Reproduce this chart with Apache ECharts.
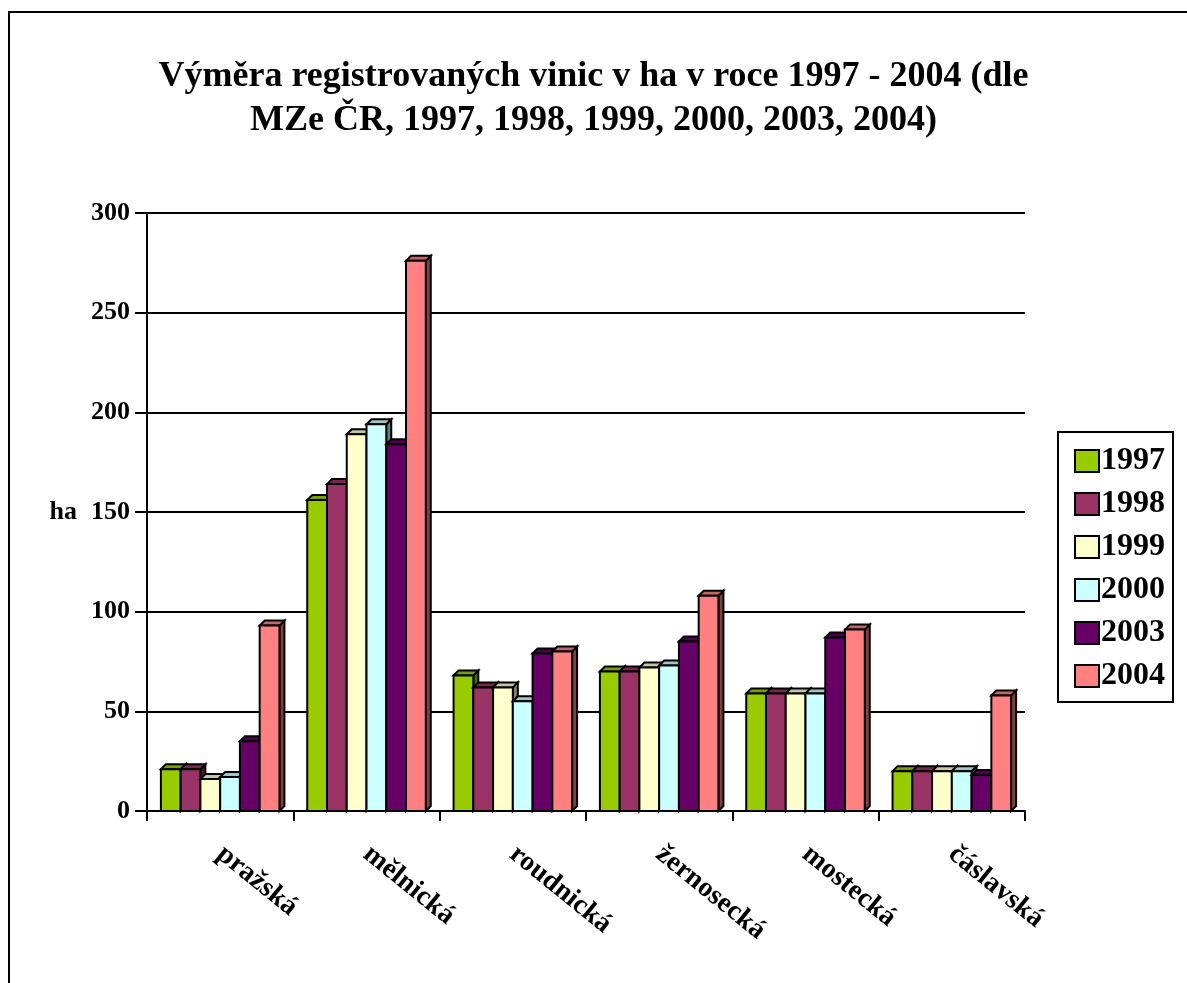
<!DOCTYPE html>
<html>
<head>
<meta charset="utf-8">
<script src="https://cdn.jsdelivr.net/npm/echarts@6/dist/echarts.min.js"></script>
<style>
html, body { margin: 0; padding: 0; background: #fff; }
#chart { width: 1187px; height: 983px; }
</style>
</head>
<body>
<div id="chart"></div>
<script>
// vinařské podoblasti a roky
var categories = ["pražská", "mělnická", "roudnická", "žernosecká", "mostecká", "čáslavská"];
var years = ["1997", "1998", "1999", "2000", "2003", "2004"];
var yTicks = [0, 50, 100, 150, 200, 250, 300];

// výměra v ha
var v1997 = [21, 156, 68, 70, 59, 20];
var v1998 = [21, 164, 62, 70, 59, 20];
var v1999 = [16, 189, 62, 72, 59, 20];
var v2000 = [17, 194, 55, 73, 59, 20];
var v2003 = [35, 184, 79, 85, 87, 18];
var v2004 = [93, 276, 80, 108, 91, 58];

var values = [v1997, v1998, v1999, v2000, v2003, v2004];
var colors = ["#99CC00", "#993366", "#FFFFCC", "#CCFFFF", "#660066", "#FF8080"];
var FONT = "'Liberation Serif', 'Times New Roman', serif";

function shade(hex, k) {
  var n = parseInt(hex.slice(1), 16);
  var r = Math.round(((n >> 16) & 255) * k);
  var g = Math.round(((n >> 8) & 255) * k);
  var b = Math.round((n & 255) * k);
  return "rgb(" + r + "," + g + "," + b + ")";
}

// 3D sloupec: přední stěna, horní plocha a bok
function bar3d(idx) {
  return function(params, api) {
    var cat = api.value(0);
    var band = api.size([1, 0])[0];
    var groupW = band * 0.81;
    var bw = groupW / 6;
    var p0 = api.coord([cat, 0]);
    var p1 = api.coord([cat, api.value(1)]);
    var x = p0[0] - groupW / 2 + idx * bw;
    var yb = p0[1], yt = p1[1];
    var d = 5;
    var c = colors[idx];
    return {
      type: "group",
      children: [
        {
          type: "polygon",
          shape: { points: [[x + bw, yt], [x + bw + d, yt - d], [x + bw + d, yb - d], [x + bw, yb]] },
          style: { fill: shade(c, 0.5), stroke: "#000", lineWidth: 2 }
        },
        {
          type: "polygon",
          shape: { points: [[x, yt], [x + d, yt - d], [x + bw + d, yt - d], [x + bw, yt]] },
          style: { fill: shade(c, 0.78), stroke: "#000", lineWidth: 2 }
        },
        {
          type: "rect",
          shape: { x: x, y: yt, width: bw, height: yb - yt },
          style: { fill: c, stroke: "#000", lineWidth: 2 }
        }
      ]
    };
  };
}

var series = [];
for (var i = 0; i < years.length; i++) {
  var data = [];
  for (var j = 0; j < categories.length; j++) {
    data.push([j, values[i][j]]);
  }
  series.push({
    name: years[i],
    type: "custom",
    renderItem: bar3d(i),
    itemStyle: { color: colors[i] },
    encode: { x: 0, y: 1 },
    data: data,
    z: 2 + i
  });
}

var chart = echarts.init(document.getElementById("chart"));
chart.setOption({
  animation: false,
  backgroundColor: "#fff",
  title: {
    text: "Výměra registrovaných vinic v ha v roce 1997 - 2004 (dle\nMZe ČR, 1997, 1998, 1999, 2000, 2003, 2004)",
    left: "center",
    top: 50,
    textStyle: {
      fontFamily: FONT,
      fontWeight: "bold",
      fontSize: 36,
      lineHeight: 44,
      color: "#000"
    }
  },
  graphic: [
    {
      type: "rect",
      shape: { x: 9, y: 12, width: 1200, height: 1000 },
      style: { fill: "none", stroke: "#000", lineWidth: 2 },
      silent: true
    }
  ],
  legend: {
    orient: "vertical",
    left: 1058,
    top: 432,
    padding: [13, 8, 10, 16],
    itemGap: 11,
    itemWidth: 24,
    itemHeight: 22,
    icon: "rect",
    borderColor: "#000",
    borderWidth: 2,
    backgroundColor: "#fff",
    itemStyle: { borderColor: "#000", borderWidth: 2 },
    textStyle: {
      fontFamily: FONT,
      fontWeight: "bold",
      fontSize: 32,
      color: "#000",
      padding: [0, 0, 0, -3]
    },
    data: years
  },
  grid: {
    left: 147,
    top: 213,
    right: 162,
    bottom: 172
  },
  xAxis: {
    type: "category",
    data: categories,
    axisLine: { lineStyle: { color: "#000", width: 2 } },
    axisTick: { show: true, length: 10, lineStyle: { color: "#000", width: 2 } },
    axisLabel: {
      interval: 0,
      rotate: -39,
      margin: 40,
      fontFamily: FONT,
      fontWeight: "bold",
      fontSize: 28,
      color: "#000"
    }
  },
  yAxis: {
    type: "value",
    min: yTicks[0],
    max: yTicks[yTicks.length - 1],
    interval: 50,
    name: "ha",
    nameLocation: "middle",
    nameRotate: 0,
    nameGap: 70,
    nameTextStyle: {
      fontFamily: FONT,
      fontWeight: "bold",
      fontSize: 26,
      color: "#000"
    },
    axisLine: { show: true, lineStyle: { color: "#000", width: 2 } },
    axisTick: { show: true, length: 12, lineStyle: { color: "#000", width: 2 } },
    axisLabel: {
      margin: 17,
      fontFamily: FONT,
      fontWeight: "bold",
      fontSize: 26,
      color: "#000"
    },
    splitLine: { show: true, lineStyle: { color: "#000", width: 2 } }
  },
  series: series
});
</script>
</body>
</html>
